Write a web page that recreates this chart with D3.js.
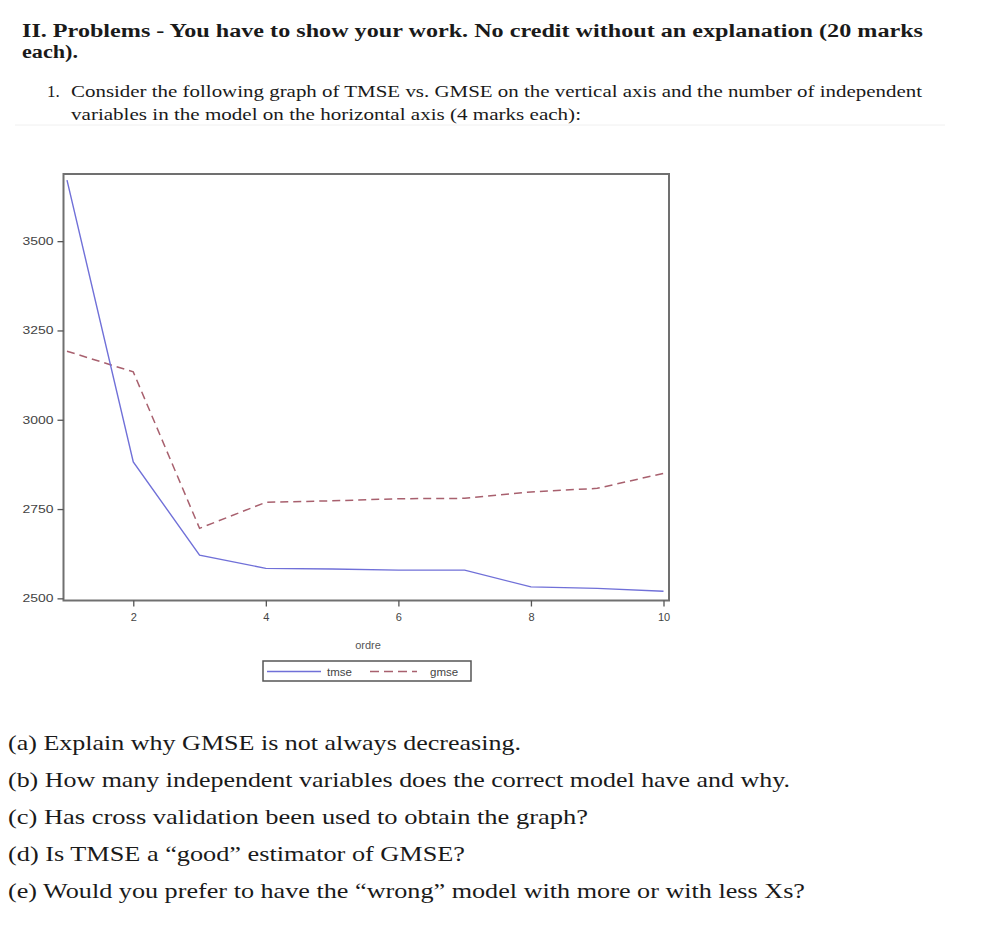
<!DOCTYPE html>
<html>
<head>
<meta charset="utf-8">
<script src="https://cdn.jsdelivr.net/npm/d3@7"></script>
<style>
  body { margin: 0; background: #fff; }
</style>
</head>
<body>
<div id="chart"></div>
<script>
// number of independent variables
const ordre = [1, 2, 3, 4, 5, 6, 7, 8, 9, 10];
const tmse = [3671, 2882, 2621, 2584, 2582, 2579, 2579, 2532, 2528, 2520];
const gmse = [3192, 3134, 2696, 2769, 2773, 2779, 2780, 2798, 2808, 2850];
const yTicks = [2500, 2750, 3000, 3250, 3500];
const xTicks = [2, 4, 6, 8, 10];

const headerLines = [
  "II. Problems - You have to show your work.  No credit without an explanation (20 marks",
  "each)."
];
const itemLines = [
  "Consider the following graph of TMSE vs. GMSE on the vertical axis and the number of independent",
  "variables in the model on the horizontal axis (4 marks each):"
];
const questions = [
  "(a) Explain why GMSE is not always decreasing.",
  "(b) How many independent variables does the correct model have and why.",
  "(c) Has cross validation been used to obtain the graph?",
  "(d) Is TMSE a \u201cgood\u201d estimator of GMSE?",
  "(e) Would you prefer to have the \u201cwrong\u201d model with more or with less Xs?"
];

const svgWidth = 996, svgHeight = 948;
const svg = d3.select("#chart")
  .append("svg")
  .attr("width", svgWidth)
  .attr("height", svgHeight)
  .style("background", "#fff");

// Page text
const serif = "'Liberation Serif', 'DejaVu Serif', serif";
const text = svg.append("g").attr("fill", "#1a1a1a").style("font-family", serif);

text.append("text").attr("x", 22).attr("y", 37)
  .style("font-size", "18.5px").style("font-weight", "bold")
  .attr("textLength", 901).attr("lengthAdjust", "spacingAndGlyphs")
  .text(headerLines[0]);
text.append("text").attr("x", 22).attr("y", 58)
  .style("font-size", "18.5px").style("font-weight", "bold")
  .attr("textLength", 56).attr("lengthAdjust", "spacingAndGlyphs")
  .text(headerLines[1]);

text.append("text").attr("x", 47).attr("y", 97)
  .style("font-size", "17px").text("1.");
text.append("text").attr("x", 71).attr("y", 97)
  .style("font-size", "17px")
  .attr("textLength", 851).attr("lengthAdjust", "spacingAndGlyphs")
  .text(itemLines[0]);
text.append("text").attr("x", 71).attr("y", 119.5)
  .style("font-size", "17px")
  .attr("textLength", 510).attr("lengthAdjust", "spacingAndGlyphs")
  .text(itemLines[1]);

svg.append("line")
  .attr("x1", 15).attr("x2", 945).attr("y1", 125).attr("y2", 125)
  .attr("stroke", "#f0f0f0").attr("stroke-width", 1);

const qWidths = [513, 782, 580, 457, 797];
text.selectAll("text.q")
  .data(questions)
  .join("text")
  .attr("class", "q")
  .attr("x", 8)
  .attr("y", (d, i) => 750 + i * 37)
  .style("font-size", "21px")
  .attr("textLength", (d, i) => qWidths[i])
  .attr("lengthAdjust", "spacingAndGlyphs")
  .text((d) => d);

// Chart
const frame = { left: 63.5, right: 669, top: 174, bottom: 600.5 };

const xScale = d3.scaleLinear().domain([1, 10]).range([67, 663.5]);
const yScale = d3.scaleLinear().domain([2494, 3688]).range([frame.bottom, frame.top]);

const chart = svg.append("g").attr("id", "viz");

const line = (vals) => d3.line()
  .x((d, i) => xScale(ordre[i]))
  .y((d) => yScale(d))(vals);

chart.append("path")
  .attr("d", line(gmse))
  .attr("fill", "none")
  .attr("stroke", "#a8606e")
  .attr("stroke-width", 1.5)
  .attr("stroke-dasharray", "8,5");

chart.append("path")
  .attr("d", line(tmse))
  .attr("fill", "none")
  .attr("stroke", "#7070d8")
  .attr("stroke-width", 1.4);

chart.append("rect")
  .attr("x", frame.left).attr("y", frame.top)
  .attr("width", frame.right - frame.left)
  .attr("height", frame.bottom - frame.top)
  .attr("fill", "none")
  .attr("stroke", "#707070")
  .attr("stroke-width", 2);

// Axes
const sans = "'Liberation Sans', Arial, sans-serif";
const axes = svg.append("g").attr("id", "axes");

const yAxis = axes.append("g")
  .attr("transform", `translate(${frame.left},0)`)
  .call(d3.axisLeft(yScale).tickValues(yTicks).tickFormat(d3.format("d")).tickSize(6).tickPadding(4))
  .call((g) => g.select(".domain").remove());
yAxis.selectAll(".tick line").attr("stroke", "#555").attr("stroke-width", 1.3);
yAxis.selectAll(".tick text")
  .attr("fill", "#444")
  .style("font-family", sans)
  .style("font-size", "10.5px")
  .attr("textLength", 31)
  .attr("lengthAdjust", "spacingAndGlyphs");

const xAxis = axes.append("g")
  .attr("transform", `translate(0,${frame.bottom})`)
  .call(d3.axisBottom(xScale).tickValues(xTicks).tickSize(6).tickPadding(7))
  .call((g) => g.select(".domain").remove());
xAxis.selectAll(".tick line").attr("stroke", "#555").attr("stroke-width", 1.3);
xAxis.selectAll(".tick text")
  .attr("fill", "#444")
  .style("font-family", sans)
  .style("font-size", "11px");

axes.append("text")
  .attr("x", 368).attr("y", 649)
  .style("text-anchor", "middle")
  .style("font-family", sans)
  .style("font-size", "11px")
  .attr("fill", "#555")
  .text("ordre");

// Legend
const legend = svg.append("g").attr("id", "legend").style("font-family", sans);
legend.append("rect")
  .attr("x", 263).attr("y", 661)
  .attr("width", 208).attr("height", 20)
  .attr("fill", "#fff")
  .attr("stroke", "#555")
  .attr("stroke-width", 1.5);
legend.append("line")
  .attr("x1", 267).attr("x2", 321).attr("y1", 671.5).attr("y2", 671.5)
  .attr("stroke", "#7070d8").attr("stroke-width", 1.3);
legend.append("text")
  .attr("x", 327).attr("y", 675.5)
  .style("font-size", "11.5px").attr("fill", "#444")
  .text("tmse");
legend.append("line")
  .attr("x1", 370).attr("x2", 417).attr("y1", 671.5).attr("y2", 671.5)
  .attr("stroke", "#a8606e").attr("stroke-width", 1.3)
  .attr("stroke-dasharray", "9,5");
legend.append("text")
  .attr("x", 430).attr("y", 675.5)
  .style("font-size", "11.5px").attr("fill", "#444")
  .text("gmse");
</script>
</body>
</html>
